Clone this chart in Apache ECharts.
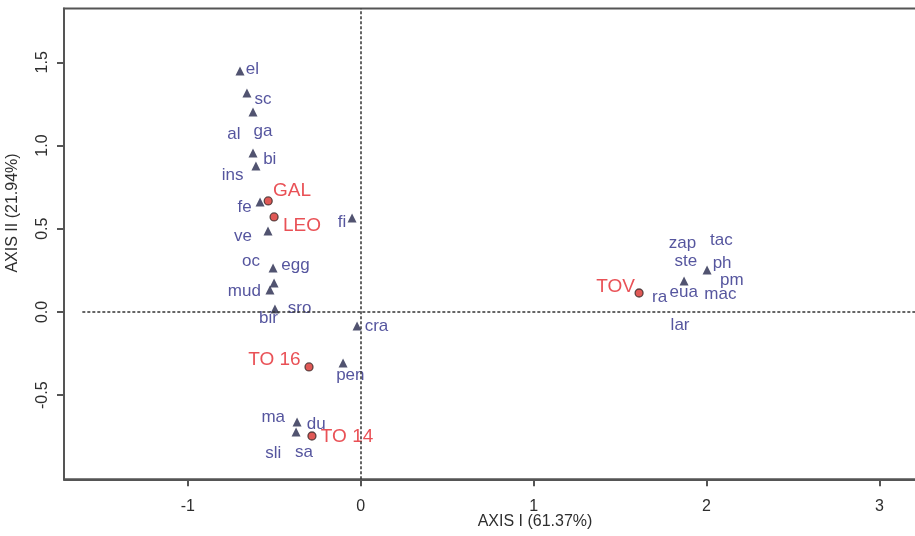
<!DOCTYPE html>
<html>
<head>
<meta charset="utf-8">
<script src="https://cdn.jsdelivr.net/npm/echarts@6/dist/echarts.min.js"></script>
<style>
html,body{margin:0;padding:0;background:#fff;overflow:hidden;}
#chart{width:915px;height:536px;}
</style>
</head>
<body>
<div id="chart"></div>
<script>
// ---- data ----
const xTicks = [-1, 0, 1, 2, 3];
const yTicks = [-0.5, 0, 0.5, 1, 1.5];
const yTickLabels = ['-0.5', '0.0', '0.5', '1.0', '1.5'];

// species points (triangles)
const triangleX = [-0.698, -0.658, -0.623, -0.623, -0.606, -0.582, -0.536, -0.050, -0.507, -0.501, -0.525, -0.496, -0.021, -0.102, -0.368, -0.374, 1.870, 2.003];
const triangleY = [1.447, 1.315, 1.201, 0.955, 0.877, 0.661, 0.486, 0.565, 0.264, 0.174, 0.132, 0.018, -0.084, -0.306, -0.661, -0.721, 0.186, 0.252];

// site points (red circles)
const siteNames = ['GAL', 'LEO', 'TO 16', 'TO 14', 'TOV'];
const siteX = [-0.535, -0.501, -0.299, -0.282, 1.610];
const siteY = [0.667, 0.571, -0.330, -0.745, 0.114];
const siteLabelX = [-0.397, -0.340, -0.499, -0.079, 1.474];
const siteLabelY = [0.727, 0.517, -0.288, -0.751, 0.153];

// species labels
const speciesNames = ['el', 'sc', 'ga', 'al', 'bi', 'ins', 'fe', 'fi', 've', 'oc', 'egg', 'mud', 'sro', 'bir', 'cra', 'pen', 'ma', 'du', 'sli', 'sa',
  'zap', 'tac', 'ste', 'ph', 'pm', 'eua', 'mac', 'ra', 'lar'];
const speciesLabelX = [-0.626, -0.565, -0.565, -0.733, -0.526, -0.741, -0.671, -0.108, -0.681, -0.635, -0.377, -0.673, -0.353, -0.534, 0.091, -0.060, -0.506, -0.257, -0.506, -0.328,
  1.861, 2.086, 1.881, 2.090, 2.146, 1.868, 2.080, 1.729, 1.847];
const speciesLabelY = [1.459, 1.279, 1.087, 1.069, 0.915, 0.823, 0.626, 0.538, 0.456, 0.302, 0.279, 0.127, 0.024, -0.038, -0.088, -0.378, -0.633, -0.674, -0.849, -0.844,
  0.413, 0.428, 0.304, 0.294, 0.192, 0.117, 0.105, 0.086, -0.078];

// ---- chart ----
const FONT = '"Liberation Sans", Arial, Helvetica, sans-serif';
const BLUE = '#2a2a86';
const RED = '#e3262c';

const chart = echarts.init(document.getElementById('chart'), null, {renderer: 'canvas'});

const option = {
  backgroundColor: '#ffffff',
  animation: false,
  grid: {
    left: 64, top: 8.5, width: 867.3, height: 470.8,
    outerBoundsMode: 'none', containLabel: false,
    show: true, borderColor: '#555', borderWidth: 2, backgroundColor: 'transparent'
  },
  xAxis: {
    type: 'value', min: -1.716, max: 3.3,
    splitLine: {show: false},
    axisLine: {show: true, onZero: false, lineStyle: {color: '#555', width: 2}},
    axisTick: {show: true, length: 7, lineStyle: {color: '#555', width: 2}, customValues: xTicks},
    axisLabel: {customValues: xTicks, margin: 19, color: '#2e2e2e', fontSize: 16, fontFamily: FONT,
      formatter: v => String(v)}
  },
  yAxis: {
    type: 'value', min: -1.005, max: 1.823,
    splitLine: {show: false},
    axisLine: {show: true, onZero: false, lineStyle: {color: '#555', width: 2}},
    axisTick: {show: true, length: 7, lineStyle: {color: '#555', width: 2}, customValues: yTicks},
    axisLabel: {customValues: yTicks, rotate: 90, margin: 13, color: '#2e2e2e', fontSize: 16, fontFamily: FONT,
      formatter: v => yTickLabels[yTicks.indexOf(v)] !== undefined ? yTickLabels[yTicks.indexOf(v)] : String(v)}
  },
  graphic: [
    {type: 'text', x: 535, y: 522, style: {text: 'AXIS I (61.37%)', fill: '#2e2e2e', font: '16px ' + FONT, align: 'center', verticalAlign: 'middle'}},
    {type: 'text', x: 13, y: 213, rotation: Math.PI / 2, style: {text: 'AXIS II (21.94%)', fill: '#2e2e2e', font: '16px ' + FONT, align: 'center', verticalAlign: 'middle'}}
  ],
  series: [
    {
      type: 'scatter', name: 'lines', data: [], silent: true,
      markLine: {
        silent: true, symbol: ['none', 'none'], label: {show: false},
        lineStyle: {color: '#333', width: 1.5, type: [3, 2]},
        data: [
          {xAxis: 0},
          [{coord: [-1.61, 0]}, {coord: [3.3, 0]}]
        ]
      }
    },
    {
      type: 'scatter', name: 'species', symbol: 'triangle', symbolSize: 9,
      itemStyle: {color: '#26284c'},
      data: triangleX.map((x, i) => [x, triangleY[i]])
    },
    {
      type: 'scatter', name: 'sites', symbol: 'circle', symbolSize: 8,
      itemStyle: {color: '#d8302c', borderColor: '#3a2a2a', borderWidth: 1.3},
      data: siteX.map((x, i) => [x, siteY[i]])
    },
    {
      type: 'scatter', name: 'speciesLabels', symbolSize: 0.1, silent: true,
      itemStyle: {color: 'rgba(0,0,0,0)'},
      label: {show: true, position: 'inside', formatter: p => p.name, color: BLUE, fontSize: 17, fontFamily: FONT,
        align: 'center', verticalAlign: 'middle'},
      data: speciesNames.map((n, i) => ({name: n, value: [speciesLabelX[i], speciesLabelY[i]]}))
    },
    {
      type: 'scatter', name: 'siteLabels', symbolSize: 0.1, silent: true,
      itemStyle: {color: 'rgba(0,0,0,0)'},
      label: {show: true, position: 'inside', formatter: p => p.name, color: RED, fontSize: 19, fontFamily: FONT,
        align: 'center', verticalAlign: 'middle'},
      data: siteNames.map((n, i) => ({name: n, value: [siteLabelX[i], siteLabelY[i]]}))
    }
  ]
};
chart.setOption(option);
</script>
</body>
</html>
